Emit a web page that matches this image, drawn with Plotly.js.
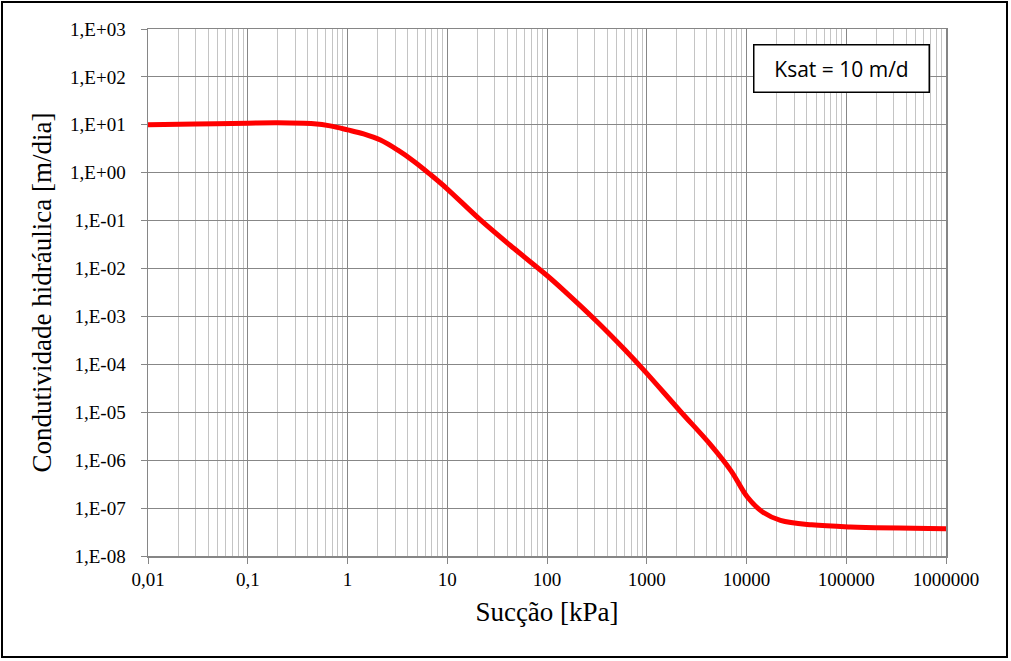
<!DOCTYPE html>
<html>
<head>
<meta charset="utf-8">
<script src="https://cdn.plot.ly/plotly-3.0.1.min.js"></script>
<style>
  html, body { margin: 0; padding: 0; background: #fff; }
  #wrap { position: relative; width: 1011px; height: 661px; }
  #chart { width: 1011px; height: 661px; }
  #frame { position: absolute; left: 1px; top: 1px; width: 1003px; height: 653px; border: 2.5px solid #000; pointer-events: none; }
</style>
</head>
<body>
<div id="wrap"><div id="chart"></div><div id="frame"></div></div>
<script>
// Suction [kPa]
const succao = [0.01, 0.03, 0.1, 0.2, 0.46, 0.67, 1, 1.45, 2.14, 3.2, 4.61, 6.8, 9.9, 21.5, 46.4, 100, 147, 318, 600, 935, 2180, 4370, 7000, 10200, 14500, 21900, 45000, 110000, 1000000];
// Hydraulic conductivity [m/dia]
const condutividade = [10, 10.35, 10.8, 11.0, 10.5, 9.5, 7.85, 6.45, 4.8, 2.95, 1.74, 0.91, 0.468, 0.1035, 0.0265, 0.00716, 0.00351, 0.000776, 0.000204, 0.0000759, 0.0000104, 0.00000209, 0.0000006, 0.00000017, 0.000000083, 0.0000000556, 0.0000000447, 0.0000000403, 0.0000000372];

const xTickVals = [0.01, 0.1, 1, 10, 100, 1000, 10000, 100000, 1000000];
const xTickText = ["0,01", "0,1", "1", "10", "100", "1000", "10000", "100000", "1000000"];
const yTickVals = [1e3, 1e2, 1e1, 1e0, 1e-1, 1e-2, 1e-3, 1e-4, 1e-5, 1e-6, 1e-7, 1e-8];
const yTickText = ["1,E+03", "1,E+02", "1,E+01", "1,E+00", "1,E-01", "1,E-02", "1,E-03", "1,E-04", "1,E-05", "1,E-06", "1,E-07", "1,E-08"];

const xMinor = [];
for (let e = -2; e < 6; e++) for (let m = 2; m <= 9; m++) xMinor.push(m * Math.pow(10, e));

const serif = "Liberation Serif";

const trace = {
  x: succao, y: condutividade, type: "scatter", mode: "lines",
  line: { color: "#ff0000", width: 5, shape: "spline", smoothing: 1 },
  hoverinfo: "x+y", showlegend: false
};

const layout = {
  width: 1011, height: 661,
  margin: { l: 148, r: 65, t: 29, b: 105 },
  paper_bgcolor: "#ffffff", plot_bgcolor: "#ffffff",
  font: { family: serif, size: 19, color: "#000" },
  xaxis: {
    type: "log", range: [-2, 6],
    tickvals: xTickVals, ticktext: xTickText,
    ticks: "outside", ticklen: 6, tickcolor: "#868686", tickwidth: 1,
    showgrid: true, gridcolor: "#878787", gridwidth: 1,
    showline: true, linecolor: "#868686", linewidth: 1.5, mirror: true,
    zeroline: false,
    minor: { tickvals: xMinor, showgrid: true, gridcolor: "#c4c4c4", gridwidth: 1, ticks: "" },
    tickfont: { family: serif, size: 19, color: "#000" },
    title: { text: "Sucção [kPa]", font: { family: serif, size: 27, color: "#000" }, standoff: 13 }
  },
  yaxis: {
    type: "log", range: [-8, 3],
    tickvals: yTickVals, ticktext: yTickText,
    ticks: "outside", ticklen: 6, tickcolor: "#868686", tickwidth: 1,
    ticklabelstandoff: 11,
    showgrid: true, gridcolor: "#878787", gridwidth: 1,
    showline: true, linecolor: "#868686", linewidth: 1.5, mirror: true,
    zeroline: false,
    tickfont: { family: serif, size: 19, color: "#000" },
    title: { text: "Condutividade hidráulica [m/dia]", font: { family: serif, size: 27, color: "#000" }, standoff: 10 }
  },
  annotations: [{
    xref: "paper", yref: "paper",
    x: (841 - 148) / (946 - 148), y: (555.7 - 68.3) / (555.7 - 29.3),
    xanchor: "center", yanchor: "middle",
    text: "Ksat = 10 m/d", showarrow: false,
    font: { family: "Open Sans", size: 21, color: "#000" },
    bgcolor: "#ffffff", bordercolor: "#000000", borderwidth: 1.5,
    borderpad: 9, width: 156
  }]
};

Plotly.newPlot("chart", [trace], layout, { displayModeBar: false, staticPlot: true });
</script>
</body>
</html>
